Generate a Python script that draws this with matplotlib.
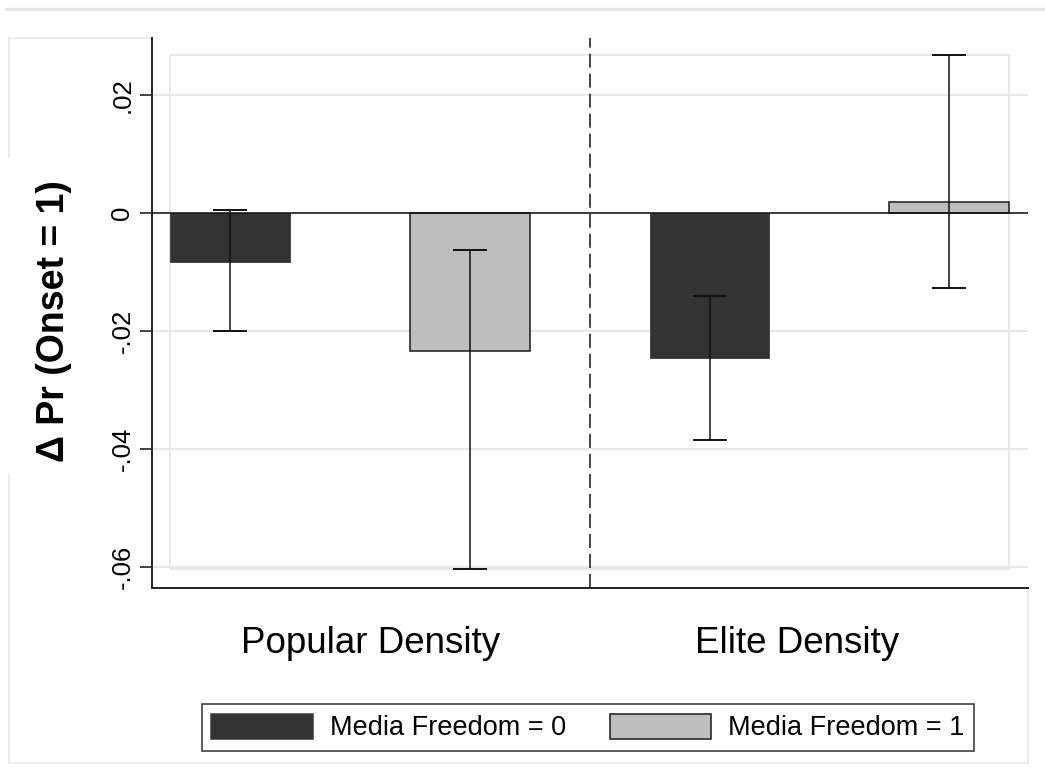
import matplotlib
matplotlib.use("Agg")
import matplotlib.pyplot as plt
from matplotlib import font_manager
from matplotlib.patches import Rectangle, Patch
from matplotlib.lines import Line2D

# ---- data -------------------------------------------------------------
categories = ["Popular Density", "Elite Density"]
series_labels = ["Media Freedom = 0", "Media Freedom = 1"]
# bars in drawing order: (Popular, MF=0), (Popular, MF=1), (Elite, MF=0), (Elite, MF=1)
bar_series = [0, 1, 0, 1]
effect = [-0.0083, -0.0234, -0.0246, 0.0019]
ci_low = [-0.0200, -0.0604, -0.0384, -0.0127]
ci_high = [0.0005, -0.0063, -0.0140, 0.0268]
yticks = [-0.06, -0.04, -0.02, 0.0, 0.02]
ytick_labels = ["-.06", "-.04", "-.02", "0", ".02"]

# ---- style ------------------------------------------------------------
names = {f.name for f in font_manager.fontManager.ttflist}
base_font = "Liberation Sans" if "Liberation Sans" in names else "DejaVu Sans"
plt.rcParams["font.family"] = [base_font, "DejaVu Sans"]

fill_colors = ["#333333", "#bebebe"]
edge_colors = ["#3a3a3a", "#1a1a1a"]
grid_gray = "#e3e3e3"
frame_gray = "#e8e8e8"

W, H = 1045, 775
fig = plt.figure(figsize=(W / 100, H / 100), dpi=100)

def fx(px):
    return px / W

def fy(py):
    return 1 - py / H

ax = fig.add_axes([fx(152), fy(588), fx(1028) - fx(152), fy(38) - fy(588)])

xpos = [i + 1 for i in range(len(effect))]
bar_w = 0.5

# plot region box spanning the data range
x0, x1 = xpos[0] - bar_w / 2, xpos[-1] + bar_w / 2
y0, y1 = min(ci_low), max(ci_high)
ax.add_patch(Rectangle((x0, y0), x1 - x0, y1 - y0, fill=False,
                       edgecolor=grid_gray, lw=1.2, zorder=0.5))

for x, v, s in zip(xpos, effect, bar_series):
    ax.bar(x, v, width=bar_w, color=fill_colors[s], edgecolor=edge_colors[s],
           linewidth=1.1 if s else 0.6, zorder=2)

err_lo = [v - lo for v, lo in zip(effect, ci_low)]
err_hi = [hi - v for v, hi in zip(effect, ci_high)]
ax.errorbar(xpos, effect, yerr=[err_lo, err_hi], fmt="none", ecolor="#111111",
            elinewidth=1.1, capsize=12, capthick=1.4, zorder=4)

ax.axhline(0, color="#111111", lw=1.1, zorder=3)
ax.axvline(2.5, color="#111111", lw=1.1, ls=(0, (9.2, 3.9)), zorder=3)

ax.set_xlim(0.675, 4.328)
ax.set_ylim(-0.06356, 0.02966)
ax.set_xticks([])
ax.set_yticks(yticks)
ax.set_yticklabels(ytick_labels, rotation=90, va="center", fontsize=18.5)
ax.tick_params(axis="y", direction="out", length=8.6, width=1.2, pad=4,
               color="#222222")
ax.grid(axis="y", color=grid_gray, lw=1.2, zorder=0)
ax.set_axisbelow(True)

for side in ("top", "right"):
    ax.spines[side].set_visible(False)
for side in ("left", "bottom"):
    ax.spines[side].set_color("#222222")
    ax.spines[side].set_linewidth(1.4)

ax.set_ylabel("\u0394 Pr (Onset = 1)", fontsize=27, fontweight="bold")
ax.yaxis.set_label_coords(-0.0913, 0.485)

# category labels under the two halves of the plot
for label, xf in zip(categories, [0.25, 0.736]):
    ax.text(xf, -0.1018, label, transform=ax.transAxes, ha="center",
            va="center", fontsize=26.5)

handles = [Patch(facecolor=fill_colors[i], edgecolor=edge_colors[i], lw=1.1)
           for i in range(2)]
leg = fig.legend(handles, series_labels, loc="center",
                 bbox_to_anchor=(fx(588), fy(727.5)), ncol=2,
                 prop={"size": 19.5},
                 frameon=True, fancybox=False, edgecolor="#111111",
                 handlelength=3.74, handleheight=1.07, handletextpad=0.63,
                 columnspacing=1.63, borderpad=0.36, borderaxespad=0)
leg.get_frame().set_linewidth(1.2)

# light graph-region outlines
def fline(xs, ys, lw=1.2, color=frame_gray):
    fig.add_artist(Line2D([fx(v) for v in xs], [fy(v) for v in ys],
                          color=color, lw=lw, zorder=0))

fline([6, W], [8.5, 8.5], lw=2.4, color="#e6e6e6")
fline([9, 152], [38, 38])
fline([9, 9], [38, 157])
fline([9, 9], [474, 763])
fline([9, 1028], [763, 763])
fline([1028, 1028], [588, 763])

fig.savefig("out.png", dpi=100)
